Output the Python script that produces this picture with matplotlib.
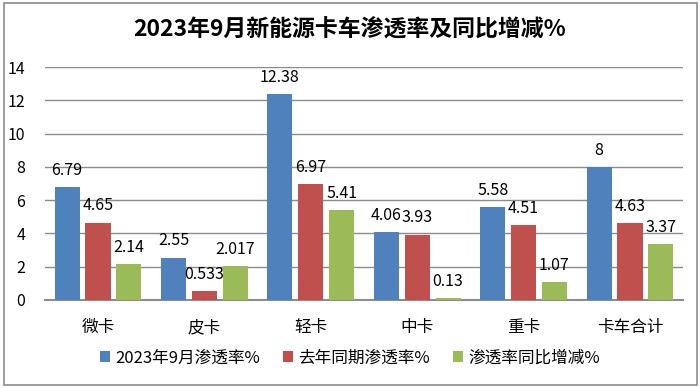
import matplotlib
matplotlib.use("Agg")
import matplotlib.pyplot as plt
import numpy as np
from matplotlib.patches import Rectangle

plt.rcParams['font.family'] = ['Noto Sans CJK SC', 'DejaVu Sans']

categories = ['微卡', '皮卡', '轻卡', '中卡', '重卡', '卡车合计']
series_names = ['2023年9月渗透率%', '去年同期渗透率%', '渗透率同比增减%']
s_2023 = [6.79, 2.55, 12.38, 4.06, 5.58, 8]
s_last = [4.65, 0.533, 6.97, 3.93, 4.51, 4.63]
s_diff = [2.14, 2.017, 5.41, 0.13, 1.07, 3.37]
labels_2023 = ['6.79', '2.55', '12.38', '4.06', '5.58', '8']
labels_last = ['4.65', '0.533', '6.97', '3.93', '4.51', '4.63']
labels_diff = ['2.14', '2.017', '5.41', '0.13', '1.07', '3.37']
colors = ['#4F81BD', '#C0504D', '#9BBB59']
yticks = [0, 2, 4, 6, 8, 10, 12, 14]

fig = plt.figure(figsize=(7, 3.88), dpi=100)
fig.patch.set_facecolor('white')
ax = fig.add_axes([0.064, 0.227, 0.912, 0.60])

x = np.arange(len(categories))
w = 0.235
step = 0.29
data = [s_2023, s_last, s_diff]
labs = [labels_2023, labels_last, labels_diff]
for i, (vals, lab, c, name) in enumerate(zip(data, labs, colors, series_names)):
    pos = x + (i - 1) * step
    bars = ax.bar(pos, vals, width=w, color=c, label=name, zorder=3)
    for b, t in zip(bars, lab):
        ax.annotate(t, (b.get_x() + b.get_width() / 2, b.get_height()),
                    xytext=(0, 12), textcoords='offset points',
                    ha='center', va='center', fontsize=11.5, color='black')

ax.set_xlim(-0.5, len(categories) - 0.5)
ax.set_ylim(0, 14)
ax.set_yticks(yticks)
ax.set_yticklabels([str(v) for v in yticks], fontsize=11.5)
ax.set_xticks(x)
ax.set_xticklabels(categories, fontsize=12)
ax.tick_params(axis='both', length=0)
ax.tick_params(axis='y', pad=14)
ax.tick_params(axis='x', pad=14)
ax.grid(axis='y', color='#8c8c8c', linewidth=1, zorder=0)
for s in ['left', 'right', 'top']:
    ax.spines[s].set_visible(False)
ax.spines['bottom'].set_color('#8c8c8c')
ax.spines['bottom'].set_linewidth(1.5)

fig.text(0.5, 0.922, '2023年9月新能源卡车渗透率及同比增减%', ha='center', va='center',
         fontsize=16.5, fontweight='bold')

leg = ax.legend(loc='center', bbox_to_anchor=(0.5, 0.077), bbox_transform=fig.transFigure,
                ncol=3, frameon=False, fontsize=12, handlelength=0.6, handleheight=0.6,
                handletextpad=0.3, columnspacing=1.4)

fig.patches.append(Rectangle((0.005, 0.008), 0.99, 0.984, transform=fig.transFigure,
                             fill=False, edgecolor='#8c8c8c', linewidth=1.2))

fig.savefig('out.png', dpi=100)
